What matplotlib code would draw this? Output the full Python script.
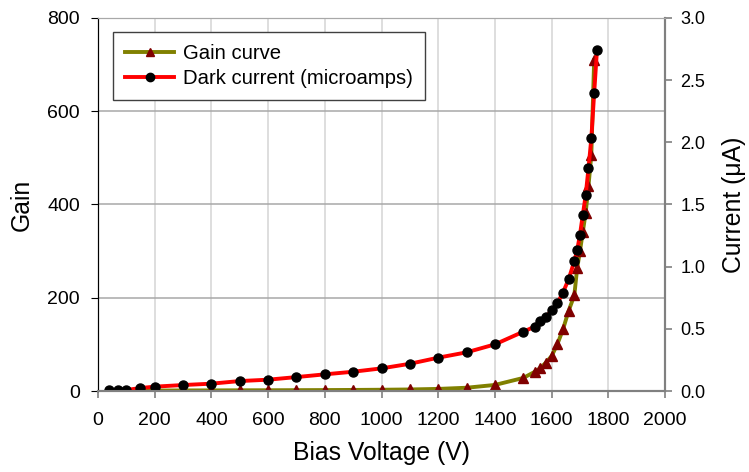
import matplotlib
matplotlib.use("Agg")
import matplotlib.pyplot as plt
from matplotlib.ticker import MultipleLocator, FormatStrFormatter
from matplotlib.lines import Line2D

plt.rcParams['font.family'] = ['Liberation Sans', 'DejaVu Sans']

# gain curve (left axis)
gain_voltage = [40, 70, 100, 150, 200, 300, 400, 500, 600, 700, 800, 900, 1000,
                1100, 1200, 1300, 1400, 1500, 1540, 1560, 1580, 1600, 1620, 1640,
                1660, 1680, 1690, 1700, 1710, 1720, 1730, 1740, 1750]
gain = [1, 1, 1, 1, 1, 1.2, 1.3, 1.5, 1.6, 1.8, 2, 2.3, 2.7,
        3.3, 4.5, 7, 13, 28, 41, 49, 61, 75, 100, 132,
        172, 205, 263, 300, 341, 382, 440, 506, 710]

# dark current in microamps (right axis)
current_voltage = [40, 70, 100, 150, 200, 300, 400, 500, 600, 700, 800, 900, 1000,
                   1100, 1200, 1300, 1400, 1500, 1540, 1560, 1580, 1600, 1620, 1640,
                   1660, 1680, 1690, 1700, 1710, 1720, 1730, 1740, 1750, 1760]
current = [0.008, 0.008, 0.008, 0.024, 0.035, 0.048, 0.059, 0.080, 0.091, 0.112, 0.134,
           0.155, 0.182, 0.219, 0.268, 0.311, 0.375, 0.477, 0.517, 0.564, 0.594, 0.649,
           0.704, 0.792, 0.899, 1.044, 1.131, 1.258, 1.417, 1.573, 1.790, 2.031, 2.393,
           2.744]

color_gain = "#808000"
color_gain_marker = "#800000"
color_current = "#ff0000"
axis_gray = "#808080"

fig = plt.figure(figsize=(7.49, 4.72), dpi=100)
ax = fig.add_axes([0.1308, 0.1716, 0.7571, 0.7903])
ax2 = ax.twinx()

ax.plot(gain_voltage, gain, c=color_gain, lw=2.8, marker="^", ms=6.5,
        mfc=color_gain_marker, mec=color_gain_marker, solid_joinstyle="round")
ax2.plot(current_voltage, current, c=color_current, lw=2.8, marker="o", ms=6.5,
         mfc="black", mec="black", solid_joinstyle="round")

ax.set_xlim(0, 2000)
ax.set_ylim(0, 800)
ax2.set_ylim(0, 3.0)
ax.xaxis.set_major_locator(MultipleLocator(200))
ax.yaxis.set_major_locator(MultipleLocator(200))
ax2.yaxis.set_major_locator(MultipleLocator(0.5))
ax2.yaxis.set_major_formatter(FormatStrFormatter("%.1f"))

# grid
ax.grid(axis="y", color="#a8a8a8", lw=1.1)
ax.grid(axis="x", color="#d4d4d4", lw=1.1)
ax.set_axisbelow(True)

for a in (ax, ax2):
    a.spines["left"].set_color("black")
    a.spines["bottom"].set_color(axis_gray)
    a.spines["right"].set_color(axis_gray)
    a.spines["top"].set_color("#a8a8a8")
    a.spines["bottom"].set_linewidth(1.5)
    a.spines["right"].set_linewidth(1.5)

ax.tick_params(axis="y", direction="out", length=5, color="black", labelsize=14, pad=8)
ax.tick_params(axis="x", direction="out", length=5, color=axis_gray, width=1.2,
               labelsize=14, pad=10)
ax2.tick_params(axis="y", direction="out", length=5, color=axis_gray, width=1.2,
                labelsize=13, pad=6)

ax.set_xlabel("Bias Voltage (V)", fontsize=17.8, labelpad=9)
ax.set_ylabel("Gain", fontsize=17.8, labelpad=10)
ax2.set_ylabel("Current (\u03bcA)", fontsize=17.8, labelpad=12, rotation=90)

handles = [
    Line2D([], [], c=color_gain, lw=2.8, marker="^", ms=6,
           mfc=color_gain_marker, mec=color_gain_marker),
    Line2D([], [], c=color_current, lw=2.8, marker="o", ms=6,
           mfc="black", mec="black"),
]
leg = ax2.legend(handles, ["Gain curve", "Dark current (microamps)"],
                 loc="upper left", bbox_to_anchor=(113 / 749, 1 - 32 / 472),
                 bbox_transform=fig.transFigure, fontsize=14.6, frameon=True,
                 fancybox=False, edgecolor="#404040", framealpha=1,
                 handlelength=2.4, handletextpad=0.45, labelspacing=0.3,
                 borderpad=0.6, borderaxespad=0)
leg.get_frame().set_linewidth(1.0)

fig.savefig("out.png", dpi=100)
